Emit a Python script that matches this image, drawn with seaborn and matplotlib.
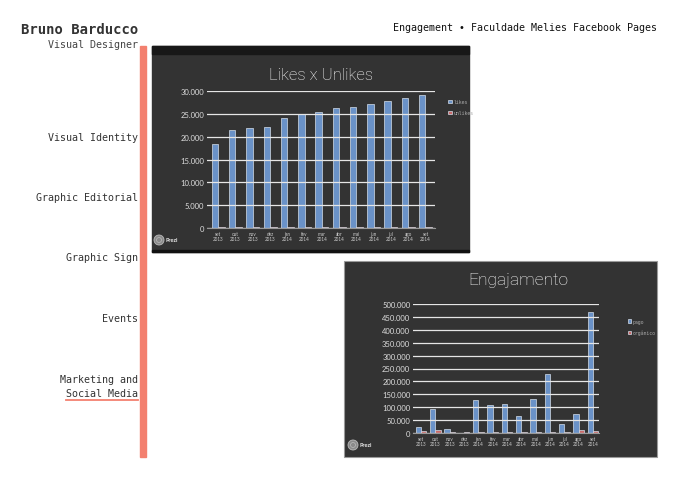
import pandas as pd
import seaborn as sns
import matplotlib.pyplot as plt
from matplotlib.patches import Rectangle, Circle

W, H = 680, 481

meses = ["set\n2013", "out\n2013", "nov\n2013", "dez\n2013", "jan\n2014", "fev\n2014", "mar\n2014",
         "abr\n2014", "mai\n2014", "jun\n2014", "jul\n2014", "ago\n2014", "set\n2014"]
likes = [18500, 21400, 21900, 22100, 24100, 24900, 25300, 26300, 26600, 27200, 27800, 28500, 29100]
unlikes = [250, 300, 320, 280, 300, 280, 300, 320, 300, 280, 300, 300, 320]
pago = [23000, 91500, 16800, 0, 129000, 109500, 113000, 64000, 133000, 227000, 36000, 72000, 468000]
organico = [6000, 10000, 5000, 5000, 5000, 5000, 5000, 4000, 4000, 3000, 3000, 10000, 8000]
ticks_likes = [0, 5000, 10000, 15000, 20000, 25000, 30000]
ticks_eng = [0, 50000, 100000, 150000, 200000, 250000, 300000, 350000, 400000, 450000, 500000]

menu = ["Visual Identity", "Graphic Editorial", "Graphic Sign", "Events", "Marketing and"]
menu_y = [138, 198, 258, 319, 380]

BLUE = "#6a92c8"
RED = "#c96a6a"
SALMON = "#f3806f"
PANEL = "#333333"
CHART_FONT = ["Lato", "DejaVu Sans"]
TITLE_FONT = ["Roboto", "DejaVu Sans"]


def px(x, y, w, h):
    return [x / W, 1 - (y + h) / H, w / W, h / H]


def bar_chart(ax, a, b, names, ticks, xlim, leg_anchor):
    df = pd.DataFrame({"mes": meses * 2, "valor": a + b,
                       "serie": [names[0]] * len(a) + [names[1]] * len(b)})
    sns.barplot(data=df, x="mes", y="valor", hue="serie", palette=[BLUE, RED],
                width=0.75, saturation=1, edgecolor="#d5deea", linewidth=0.5, ax=ax)
    ax.set_facecolor("none")
    ax.set_xlim(*xlim)
    ax.set_ylim(0, ticks[-1])
    ax.set_yticks(ticks)
    ax.set_yticklabels([f"{t:,}".replace(",", ".") for t in ticks],
                       fontsize=5.5, color="#dddddd", family=CHART_FONT)
    for lab in ax.get_xticklabels():
        lab.set_fontsize(3.3)
        lab.set_color("#cccccc")
        lab.set_family(CHART_FONT)
        lab.set_linespacing(1.1)
    ax.set_xlabel("")
    ax.set_ylabel("")
    ax.tick_params(length=0, pad=2)
    ax.yaxis.grid(True, color="#e6e6e6", lw=0.9)
    ax.set_axisbelow(False)
    for s in ["left", "right", "top"]:
        ax.spines[s].set_visible(False)
    ax.spines["bottom"].set_color("#999999")
    sns.move_legend(ax, "upper left", bbox_to_anchor=leg_anchor, frameon=False, title=None,
                    fontsize=3.5, labelcolor="#aaaaaa", handlelength=0.7, handleheight=0.7,
                    handletextpad=0.4, labelspacing=1.2)


plt.rcParams["font.family"] = "DejaVu Sans Mono"
fig = plt.figure(figsize=(W / 100, H / 100), dpi=100, facecolor="white")

bg = fig.add_axes([0, 0, 1, 1], zorder=-1)
bg.set_xlim(0, W)
bg.set_ylim(H, 0)
bg.axis("off")

# left column
bg.text(138, 30, "Bruno Barducco", ha="right", va="center", fontsize=10, fontweight="bold", color="#333333")
bg.text(138, 45, "Visual Designer", ha="right", va="center", fontsize=7.2, color="#444444")
for label, y in zip(menu, menu_y):
    bg.text(138, y, label, ha="right", va="center", fontsize=7.2, color="#333333")
bg.text(138, 394, "Social Media", ha="right", va="center", fontsize=7.2, color="#333333")
bg.plot([66, 138], [401, 401], color=SALMON, lw=1.3)
bg.add_patch(Rectangle((140, 47), 6, 411, color=SALMON))
bg.text(657, 28, "Engagement • Faculdade Melies Facebook Pages", ha="right", va="center",
        fontsize=7.2, color="#111111")

# panels
bg.add_patch(Rectangle((152, 47), 317, 206, color=PANEL))
bg.add_patch(Rectangle((152, 47), 317, 8, color="#181818"))
bg.add_patch(Rectangle((152, 251), 317, 2, color="#111111"))
bg.add_patch(Rectangle((344, 262), 313, 196, facecolor=PANEL, edgecolor="#9a9a9a", lw=0.8))

bg.text(321, 75, "Likes x Unlikes", ha="center", va="center", fontsize=12, color="#ffffff",
        family=TITLE_FONT, fontweight="light")
bg.text(518, 281, "Engajamento", ha="center", va="center", fontsize=12.5, color="#ffffff",
        family=TITLE_FONT, fontweight="light")

for cx, cy in [(159, 241), (353, 446)]:
    bg.add_patch(Circle((cx, cy), 5, facecolor="#8a8a8a", edgecolor="#bbbbbb", lw=0.6))
    bg.add_patch(Circle((cx, cy), 2.5, facecolor="none", edgecolor="#bbbbbb", lw=0.5))
    bg.text(cx + 7, cy, "Prezi", ha="left", va="center", fontsize=4, fontweight="bold",
            color="#eeeeee", family=CHART_FONT)

ax1 = fig.add_axes(px(207, 92, 228, 137))
bar_chart(ax1, likes, unlikes, ["likes", "unlikes"], ticks_likes, (-0.65, 12.55), (1.04, 0.97))

ax2 = fig.add_axes(px(413, 305, 186, 129))
bar_chart(ax2, pago, organico, ["pago", "orgânico"], ticks_eng, (-0.56, 12.42), (1.13, 0.92))

fig.savefig("out.png", dpi=100, facecolor="white")
